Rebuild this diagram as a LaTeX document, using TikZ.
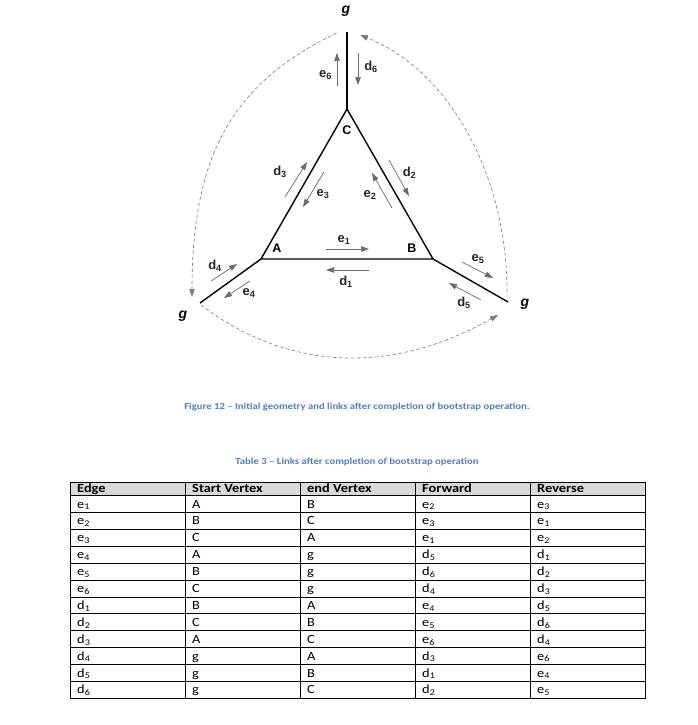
\documentclass[tikz,border=0pt]{standalone}
\usepackage{fontspec}
\setmainfont{Liberation Sans}
\newfontfamily\calib[FakeStretch=1.15]{Carlito}
\usetikzlibrary{arrows.meta}
\definecolor{capblue}{HTML}{4F81BD}
\definecolor{arrgray}{HTML}{6A6A6A}
\definecolor{loopgray}{HTML}{7A7A7A}
\definecolor{hdrgray}{HTML}{D9D9D9}
\newcommand\ssub[2]{#1\textsubscript{#2}}
\begin{document}
\begin{tikzpicture}[x=1pt,y=-1pt,
  gedge/.style={line width=1.4pt, black},
  lnk/.style={arrgray, line width=0.7pt, -{Triangle[length=8pt,width=5.5pt]}},
  gloop/.style={loopgray, line width=0.6pt, dash pattern=on 3.5pt off 2.5pt, -{Triangle[length=8pt,width=5.5pt]}},
  lbl/.style={font=\bfseries\fontsize{13}{15}\selectfont, inner sep=0pt, text=black!85},
  vlbl/.style={font=\bfseries\fontsize{12.5}{14}\selectfont, inner sep=0pt},
  glbl/.style={font=\bfseries\itshape\fontsize{14}{16}\selectfont, inner sep=0pt},
  captxt/.style={font=\calib\bfseries\fontsize{9.3}{11}\selectfont, text=capblue, inner sep=0pt},
  hdr/.style={font=\calib\bfseries\fontsize{12.5}{14}\selectfont, inner sep=0pt, anchor=base west},
  cell/.style={font=\calib\fontsize{12.5}{14}\selectfont, inner sep=0pt, anchor=base west},
  tline/.style={line width=0.8pt, black}
]
\useasboundingbox[fill=white] (0,0) rectangle (698,725);

% vertices
\coordinate (A) at (261,259);
\coordinate (B) at (433,259);
\coordinate (C) at (347,109);
\coordinate (gT) at (347,32);
\coordinate (gL) at (200,303);
\coordinate (gR) at (508,302);

\draw[gedge] (A) -- (B) -- (C) -- cycle;
\draw[gedge] (C) -- (gT);
\draw[gedge] (A) -- (gL);
\draw[gedge] (B) -- (gR);

\node[vlbl] (lA) at (277,248) {A};
\node[vlbl] (lB) at (412,248) {B};
\node[vlbl] (lC) at (347,130) {C};
\node[glbl] (lgT) at (346,11) {g};
\node[glbl] (lgL) at (183,316) {g};
\node[glbl] (lgR) at (525,304) {g};

% dashed g loops
\coordinate (aT1) at (336.7,33);
\coordinate (aL1) at (192,297);
\coordinate (aR1) at (507,292);
\coordinate (aT2) at (360,35);
\coordinate (aL2) at (201,305);
\coordinate (aR2) at (498,315);
\draw[gloop] (aT1) .. controls (232,83) and (192,156) .. (aL1);
\draw[gloop] (aR1) .. controls (507,173) and (448,70) .. (aT2);
\draw[gloop] (aL2) .. controls (289.4,371.6) and (391.6,374.8) .. (aR2);

% link arrows
\coordinate (e6s) at (337,86); \coordinate (e6t) at (337,53);
\coordinate (d6s) at (358,53); \coordinate (d6t) at (358,85);
\coordinate (d3s) at (285,197); \coordinate (d3t) at (307,162);
\coordinate (e3s) at (324,172); \coordinate (e3t) at (303,207);
\coordinate (e2s) at (392,208); \coordinate (e2t) at (372,173);
\coordinate (d2s) at (389,160); \coordinate (d2t) at (409,196);
\coordinate (e1s) at (326,249); \coordinate (e1t) at (369,249);
\coordinate (d1s) at (369,270); \coordinate (d1t) at (326,270);
\coordinate (d4s) at (211,281); \coordinate (d4t) at (237,264);
\coordinate (e4s) at (250,281); \coordinate (e4t) at (224,298);
\coordinate (e5s) at (462,262); \coordinate (e5t) at (493,278);
\coordinate (d5s) at (481,300); \coordinate (d5t) at (449,283);
\foreach \n in {e1,e2,e3,e4,e5,e6,d1,d2,d3,d4,d5,d6}
  \draw[lnk] (\n s) -- (\n t);

\node[lbl] (le6) at (325.5,75) {\ssub e6};
\node[lbl] (ld6) at (371,67) {\ssub d6};
\node[lbl] (ld3) at (280,172) {\ssub d3};
\node[lbl] (le3) at (323,194) {\ssub e3};
\node[lbl] (le2) at (370,195) {\ssub e2};
\node[lbl] (ld2) at (409.5,173) {\ssub d2};
\node[lbl] (le1) at (344,240) {\ssub e1};
\node[lbl] (ld1) at (346,282) {\ssub d1};
\node[lbl] (ld4) at (215,266) {\ssub d4};
\node[lbl] (le4) at (249,293) {\ssub e4};
\node[lbl] (le5) at (478,259) {\ssub e5};
\node[lbl] (ld5) at (464,303) {\ssub d5};

% captions
\node[captxt] (fig) at (357,407) {Figure 12 – Initial geometry and links after completion of bootstrap operation.};
\node[captxt] (tab) at (357,462) {Table 3 – Links after completion of bootstrap operation};

% table
\fill[hdrgray] (70,482) rectangle (645,495.5);
\foreach \k in {0,...,11}
  \draw[tline] (70,{495.5+\k*16.9}) -- (645,{495.5+\k*16.9});
\foreach \xx in {185,300,415,530}
  \draw[tline] (\xx,482) -- (\xx,698.3);
\draw[tline] (70,482) rectangle (645,698.3);

\node[hdr] (h1) at (77,492) {Edge};
\node[hdr] (h2) at (192,492) {Start Vertex};
\node[hdr] (h3) at (307,492) {end Vertex};
\node[hdr] (h4) at (422,492) {Forward};
\node[hdr] (h5) at (537,492) {Reverse};

\foreach \i/\ed/\sv/\ev/\fw/\rv in {
  1/\ssub e1/A/B/\ssub e2/\ssub e3,
  2/\ssub e2/B/C/\ssub e3/\ssub e1,
  3/\ssub e3/C/A/\ssub e1/\ssub e2,
  4/\ssub e4/A/g/\ssub d5/\ssub d1,
  5/\ssub e5/B/g/\ssub d6/\ssub d2,
  6/\ssub e6/C/g/\ssub d4/\ssub d3,
  7/\ssub d1/B/A/\ssub e4/\ssub d5,
  8/\ssub d2/C/B/\ssub e5/\ssub d6,
  9/\ssub d3/A/C/\ssub e6/\ssub d4,
  10/\ssub d4/g/A/\ssub d3/\ssub e6,
  11/\ssub d5/g/B/\ssub d1/\ssub e4,
  12/\ssub d6/g/C/\ssub d2/\ssub e5}{
  \pgfmathsetmacro\yy{495.5+(\i-1)*16.9+12.5}
  \node[cell] (r\i c1) at (77,\yy) {\ed};
  \node[cell] (r\i c2) at (192,\yy) {\sv};
  \node[cell] (r\i c3) at (307,\yy) {\ev};
  \node[cell] (r\i c4) at (422,\yy) {\fw};
  \node[cell] (r\i c5) at (537,\yy) {\rv};
}
\end{tikzpicture}
\end{document}
